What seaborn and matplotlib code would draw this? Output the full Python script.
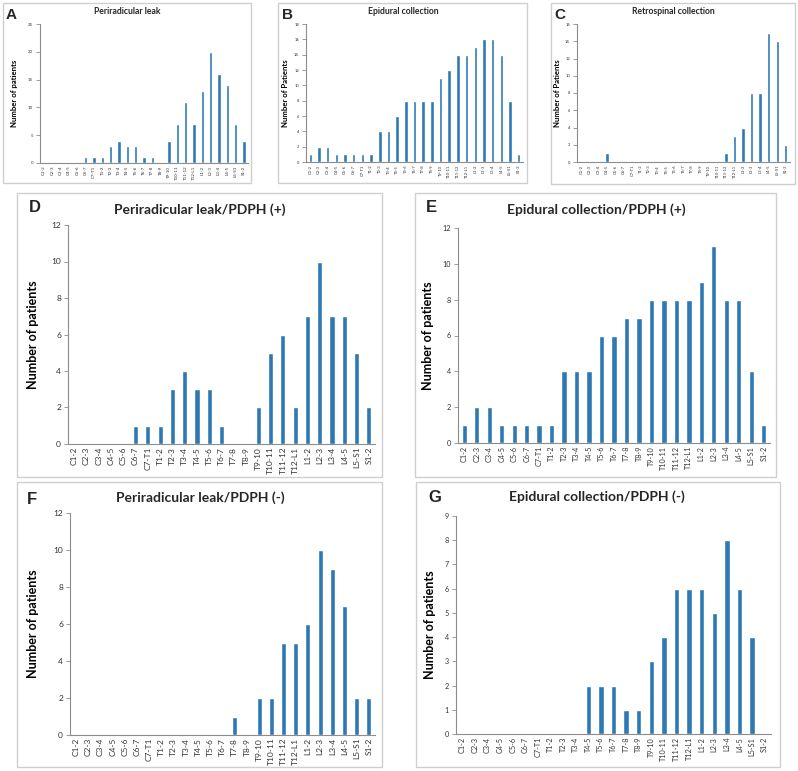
import numpy as np
import pandas as pd
import matplotlib
matplotlib.use("Agg")
import matplotlib.pyplot as plt
from matplotlib.patches import Rectangle
import seaborn as sns

sns.set_style("white")
plt.rcParams['font.family'] = ['Lato', 'DejaVu Sans']

levels = ["C1-2", "C2-3", "C3-4", "C4-5", "C5-6", "C6-7", "C7-T1", "T1-2", "T2-3",
          "T3-4", "T4-5", "T5-6", "T6-7", "T7-8", "T8-9", "T9-10", "T10-11", "T11-12",
          "T12-L1", "L1-2", "L2-3", "L3-4", "L4-5", "L5-S1", "S1-2"]

peri_all = [0, 0, 0, 0, 0, 1, 1, 1, 3, 4, 3, 3, 1, 1, 0, 4, 7, 11, 7, 13, 20, 16, 14, 7, 4]
epi_all = [1, 2, 2, 1, 1, 1, 1, 1, 4, 4, 6, 8, 8, 8, 8, 11, 12, 14, 14, 15, 16, 16, 14, 8, 1]
retro_all = [0, 0, 0, 1, 0, 0, 0, 0, 0, 0, 0, 0, 0, 0, 0, 0, 0, 1, 3, 4, 8, 8, 15, 14, 2]
peri_pos = [0, 0, 0, 0, 0, 1, 1, 1, 3, 4, 3, 3, 1, 0, 0, 2, 5, 6, 2, 7, 10, 7, 7, 5, 2]
epi_pos = [1, 2, 2, 1, 1, 1, 1, 1, 4, 4, 4, 6, 6, 7, 7, 8, 8, 8, 8, 9, 11, 8, 8, 4, 1]
peri_neg = [0, 0, 0, 0, 0, 0, 0, 0, 0, 0, 0, 0, 0, 1, 0, 2, 2, 5, 5, 6, 10, 9, 7, 2, 2]
epi_neg = [0, 0, 0, 0, 0, 0, 0, 0, 0, 0, 2, 2, 2, 1, 1, 3, 4, 6, 6, 6, 5, 8, 6, 4, 0]

W, H = 798, 771
BAR = "#2E78B4"
GRAY = "#8C8C8C"

fig = plt.figure(figsize=(W / 100, H / 100), dpi=100)


def frac(l, t, r, b):
    return [l / W, 1 - b / H, (r - l) / W, (b - t) / H]


def box(l, t, r, b):
    x, y, w, h = frac(l, t, r, b)
    fig.add_artist(Rectangle((x, y), w, h, transform=fig.transFigure,
                             fill=False, edgecolor="#CFCFCF", linewidth=1.0))


def panel(rect_px, values, ymax, ystep, title, ylabel, letter, tick_fs, title_fs,
          ylab_fs, letter_fs, title_xy, letter_xy, ylab_x, bw):
    l, t, r, b = rect_px
    ax = fig.add_axes(frac(l, t, r, b))
    df = pd.DataFrame({"level": levels, "n": values})
    sns.barplot(data=df, x="level", y="n", order=levels, color=BAR,
                width=bw, ax=ax, saturation=1)
    ax.set_xlim(-0.5, len(levels) - 0.5)
    ax.set_ylim(0, ymax)
    ax.set_yticks(np.arange(0, ymax + 0.01, ystep))
    ax.set_xticks(np.arange(-0.5, len(levels), 1), minor=True)
    ax.tick_params(axis="x", which="major", length=0, labelsize=tick_fs,
                   labelrotation=90, labelcolor="#333333", pad=2)
    ax.tick_params(axis="x", which="minor", length=3, color=GRAY, width=0.6)
    ax.tick_params(axis="y", length=3, color=GRAY, width=0.6, labelsize=tick_fs,
                   labelcolor="#333333", pad=2, left=True)
    for s in ["top", "right"]:
        ax.spines[s].set_visible(False)
    for s in ["left", "bottom"]:
        ax.spines[s].set_color(GRAY)
        ax.spines[s].set_linewidth(0.8)
    ax.set_xlabel("")
    ax.set_ylabel(ylabel, fontsize=ylab_fs, fontweight="bold", color="black")
    ax.yaxis.set_label_coords((ylab_x - l) / (r - l), 0.5)
    fig.text(title_xy[0] / W, 1 - title_xy[1] / H, title, ha="center", va="center",
             fontsize=title_fs, fontweight="bold")
    fig.text(letter_xy[0] / W, 1 - letter_xy[1] / H, letter, ha="left", va="center",
             fontsize=letter_fs, fontweight="bold", family=["Liberation Sans", "DejaVu Sans"])
    return ax


# boxes
box(3, 3, 251, 183)
box(278, 3, 527, 183)
box(551, 3, 795, 184)
box(17, 193, 382, 477)
box(415, 193, 776, 477)
box(17, 482, 382, 767)
box(416, 482, 780, 767)

panel((40, 24, 248, 163), peri_all, 25, 5, "Periradicular leak", "Number of patients", "A",
      3.2, 6.2, 5.6, 11, (127, 12), (6, 15), 18, 0.4)
panel((306, 24, 523, 162), epi_all, 18, 2, "Epidural collection", "Number of Patients", "B",
      3.0, 6.2, 5.6, 11, (403, 12), (282, 15), 289, 0.4)
panel((577, 24, 790, 162), retro_all, 16, 2, "Retrospinal collection", "Number of Patients", "C",
      3.0, 6.2, 5.6, 11, (673, 12), (554, 15), 561, 0.4)
panel((68, 225, 375, 444), peri_pos, 12, 2, "Periradicular leak/PDPH (+)", "Number of patients", "D",
      6.0, 10, 9, 12, (200, 210), (29, 208), 39, 0.42)
panel((458, 228, 770, 443), epi_pos, 12, 2, "Epidural collection/PDPH (+)", "Number of patients", "E",
      5.2, 10, 9, 12, (596, 210), (426, 208), 434, 0.42)
panel((70, 513, 375, 735), peri_neg, 12, 2, "Periradicular leak/PDPH (-)", "Number of patients", "F",
      6.0, 10, 9, 12, (200, 498), (27, 499), 39, 0.42)
panel((456, 516, 771, 734), epi_neg, 9, 1, "Epidural collection/PDPH (-)", "Number of patients", "G",
      5.2, 10, 9, 12, (597, 497), (428, 497), 436, 0.42)

fig.savefig("out.png", dpi=100, facecolor="white")
